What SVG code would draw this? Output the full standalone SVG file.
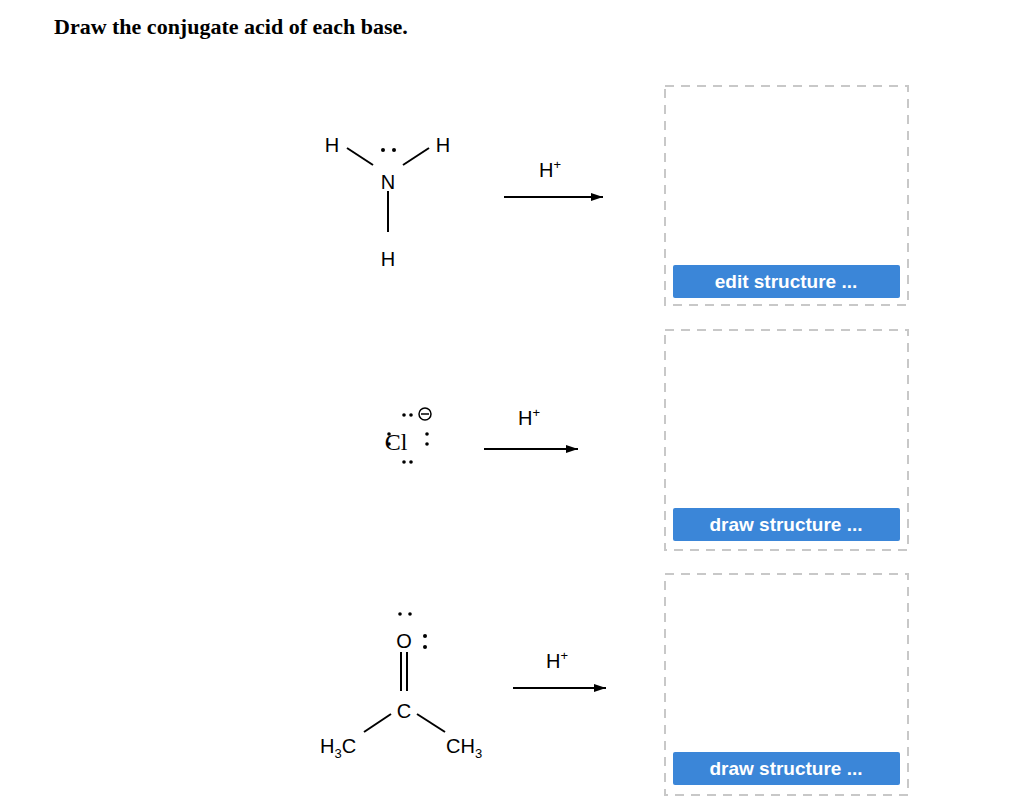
<svg xmlns="http://www.w3.org/2000/svg" width="1024" height="811" viewBox="0 0 1024 811">
<defs>
<style>
.t{font-family:"Liberation Sans",Arial,sans-serif;font-size:20px;fill:#000}
.s{font-size:13px}
.b{stroke:#000;stroke-width:2;fill:none}
.box{fill:none;stroke:#c8c8c8;stroke-width:2;stroke-dasharray:9,7}
.btn{fill:#3b86d8}
.bt{font-family:"Liberation Sans",Arial,sans-serif;font-size:19px;font-weight:bold;fill:#fff}
.d{fill:#000}
</style>
<marker id="ah" viewBox="0 0 12 8" refX="12" refY="4" markerWidth="12" markerHeight="8" markerUnits="userSpaceOnUse" orient="auto"><path d="M0,0L12,4L0,8Z" fill="#000"/></marker>
</defs>
<rect width="1024" height="811" fill="#fff"/>
<text x="54" y="34" font-family="Liberation Serif,serif" font-size="22" font-weight="bold">Draw the conjugate acid of each base.</text>

<g id="ammonia">
<text class="t" x="332" y="152" text-anchor="middle">H</text>
<text class="t" x="443" y="152" text-anchor="middle">H</text>
<text class="t" x="388" y="189" text-anchor="middle">N</text>
<text class="t" x="388" y="266" text-anchor="middle">H</text>
<line class="b" x1="347" y1="148" x2="373" y2="165"/>
<line class="b" x1="403" y1="165" x2="429" y2="148"/>
<line class="b" x1="388" y1="191" x2="388" y2="232"/>
<circle class="d" cx="383" cy="150" r="2"/><circle class="d" cx="394" cy="150" r="2"/>
</g>

<g id="chloride">
<text x="396" y="450" text-anchor="middle" font-family="Liberation Serif,serif" font-size="24">Cl</text>
<circle class="d" cx="404" cy="415" r="1.8"/><circle class="d" cx="411" cy="415" r="1.8"/>
<circle cx="425" cy="414" r="6" fill="none" stroke="#000" stroke-width="1.5"/>
<line x1="421" y1="414" x2="429" y2="414" stroke="#000" stroke-width="1.5"/>
<circle class="d" cx="389" cy="434" r="1.8"/><circle class="d" cx="389" cy="444" r="1.8"/>
<circle class="d" cx="427" cy="434" r="1.8"/><circle class="d" cx="427" cy="444" r="1.8"/>
<circle class="d" cx="404" cy="462" r="1.8"/><circle class="d" cx="411" cy="462" r="1.8"/>
</g>

<g id="acetone">
<text class="t" x="404" y="648" text-anchor="middle">O</text>
<circle class="d" cx="400" cy="614" r="1.8"/><circle class="d" cx="410" cy="614" r="1.8"/>
<circle class="d" cx="425" cy="636" r="2"/><circle class="d" cx="425" cy="647" r="2"/>
<line class="b" x1="401" y1="652" x2="401" y2="691"/>
<line class="b" x1="407" y1="652" x2="407" y2="691"/>
<text class="t" x="404" y="718" text-anchor="middle">C</text>
<line class="b" x1="391" y1="714" x2="364" y2="732"/>
<line class="b" x1="417" y1="714" x2="445" y2="732"/>
<text class="t" x="320" y="753">H<tspan class="s" dy="5">3</tspan><tspan dy="-5">C</tspan></text>
<text class="t" x="446" y="753">CH<tspan class="s" dy="5">3</tspan></text>
</g>

<g id="connectors">
<line class="b" x1="504" y1="197" x2="603" y2="197" marker-end="url(#ah)"/>
<line class="b" x1="484" y1="449" x2="578" y2="449" marker-end="url(#ah)"/>
<line class="b" x1="513" y1="688" x2="606" y2="688" marker-end="url(#ah)"/>
<text class="t" x="539" y="177">H<tspan class="s" dy="-8">+</tspan></text>
<text class="t" x="518" y="425">H<tspan class="s" dy="-8">+</tspan></text>
<text class="t" x="546" y="668">H<tspan class="s" dy="-8">+</tspan></text>
</g>

<g id="answer1">
<rect class="box" x="665" y="86" width="243" height="219"/>
<rect class="btn" x="673" y="265" width="227" height="33" rx="2"/>
<text class="bt" x="786" y="288" text-anchor="middle">edit structure ...</text>
</g>
<g id="answer2">
<rect class="box" x="665" y="330" width="243" height="220"/>
<rect class="btn" x="673" y="508" width="227" height="33" rx="2"/>
<text class="bt" x="786" y="531" text-anchor="middle">draw structure ...</text>
</g>
<g id="answer3">
<rect class="box" x="665" y="574" width="243" height="221"/>
<rect class="btn" x="673" y="752" width="227" height="33" rx="2"/>
<text class="bt" x="786" y="775" text-anchor="middle">draw structure ...</text>
</g>
</svg>
